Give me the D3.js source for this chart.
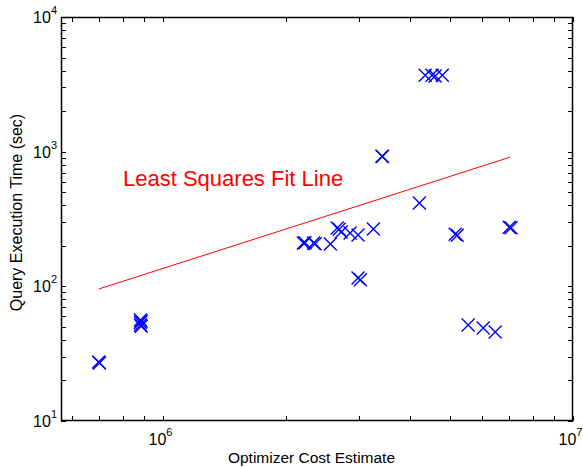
<!DOCTYPE html>
<html><head><meta charset="utf-8">
<script src="https://cdn.jsdelivr.net/npm/d3@7"></script>
<style>body{margin:0;background:#fff}svg{display:block}</style>
</head><body>
<svg id="c" width="583" height="467"></svg>
<script>
// Data
const costEstimate = [6.97e5, 7.0e5,
  8.81e5, 8.85e5, 8.81e5, 8.85e5, 8.81e5,
  2.20e6, 2.22e6, 2.33e6, 2.35e6, 2.56e6, 2.66e6, 2.69e6, 2.72e6, 2.86e6, 2.99e6, 3.26e6,
  2.99e6, 3.03e6, 3.42e6, 3.43e6, 4.22e6,
  4.36e6, 4.53e6, 4.61e6, 4.80e6,
  5.16e6, 5.22e6, 6.99e6, 7.06e6,
  5.55e6, 6.04e6, 6.46e6];
const execTime = [27.4, 27.0,
  56.2, 55.0, 51.6, 50.5, 53.8,
  209.5, 211, 209.5, 207, 206, 270.7, 265, 252.9, 248.5, 240.1, 266,
  115.2, 112, 926, 920, 415,
  3694, 3694, 3650, 3694,
  244, 240, 275, 272,
  51.6, 49.1, 45.8];
const fitX = [6.97e5, 7.02e6];
const fitY = [95.5, 910];
const xDomain = [5.64e5, 1e7];
const yDomain = [10, 1e4];
const xMajorExp = [6, 7];
const yMajorExp = [1, 2, 3, 4];
const xLabel = "Optimizer Cost Estimate";
const yLabel = "Query Execution Time (sec)";
const fitLabel = "Least Squares Fit Line";

const svg = d3.select("#c");
const L = 61, R = 573, T = 17, B = 421;
const x = d3.scaleLog().domain(xDomain).range([L, R]);
const y = d3.scaleLog().domain(yDomain).range([B, T]);
const font = "Liberation Sans, Arial, Helvetica, sans-serif";

// ticks (inward, all four sides)
const xt = x.ticks().filter(v => v >= xDomain[0] && v <= xDomain[1]);
const yt = y.ticks();
const tl = 5;
const g = svg.append("g").attr("stroke", "#000").attr("stroke-width", 1);
xt.forEach(v => {
  const px = Math.round(x(v)) + 0.5;
  g.append("line").attr("x1", px).attr("x2", px).attr("y1", B).attr("y2", B - tl);
  g.append("line").attr("x1", px).attr("x2", px).attr("y1", T).attr("y2", T + tl);
});
yt.forEach(v => {
  const py = Math.round(y(v)) + 0.5;
  g.append("line").attr("x1", L).attr("x2", L + tl).attr("y1", py).attr("y2", py);
  g.append("line").attr("x1", R).attr("x2", R - tl).attr("y1", py).attr("y2", py);
});
svg.append("rect").attr("x", L + 0.5).attr("y", T + 0.5).attr("width", R - L - 1).attr("height", B - T - 1)
  .attr("fill", "none").attr("stroke", "#000").attr("stroke-width", 1.5);

// tick labels
xMajorExp.forEach(e => {
  const t = svg.append("text").attr("x", x(Math.pow(10, e)) - 2.5).attr("y", B + 24)
    .attr("text-anchor", "middle").attr("font-family", font).attr("font-size", 16).attr("fill", "#000");
  t.append("tspan").text("10");
  t.append("tspan").attr("dy", -9).attr("font-size", 11).text(e);
});
yMajorExp.forEach(e => {
  const t = svg.append("text").attr("x", 57).attr("y", y(Math.pow(10, e)) + 6)
    .attr("text-anchor", "end").attr("font-family", font).attr("font-size", 16).attr("fill", "#000");
  t.append("tspan").text("10");
  t.append("tspan").attr("dy", -9).attr("font-size", 11).text(e);
});

// axis labels
svg.append("text").attr("x", 311.5).attr("y", 463).attr("text-anchor", "middle")
  .attr("font-family", font).attr("font-size", 15.5).text(xLabel);
svg.append("text").attr("transform", "translate(22,212.5) rotate(-90)").attr("text-anchor", "middle")
  .attr("font-family", font).attr("font-size", 16).text(yLabel);

// fit line
const line = d3.line().x(d => x(d[0])).y(d => y(d[1]));
svg.append("path").datum(d3.zip(fitX, fitY)).attr("d", line)
  .attr("fill", "none").attr("stroke", "#ff0000").attr("stroke-width", 1);
svg.append("text").attr("x", 123).attr("y", 186).attr("font-family", font).attr("font-size", 22)
  .attr("fill", "#ff0000").text(fitLabel);

// markers
const s = 6.5;
const pts = d3.zip(costEstimate, execTime);
svg.append("g").selectAll("path").data(pts).join("path")
  .attr("d", d => {
    const cx = x(d[0]), cy = y(d[1]);
    return `M${cx - s},${cy - s}L${cx + s},${cy + s}M${cx - s},${cy + s}L${cx + s},${cy - s}`;
  })
  .attr("fill", "none").attr("stroke", "#0000ff").attr("stroke-width", 1.4);
</script>
</body></html>
